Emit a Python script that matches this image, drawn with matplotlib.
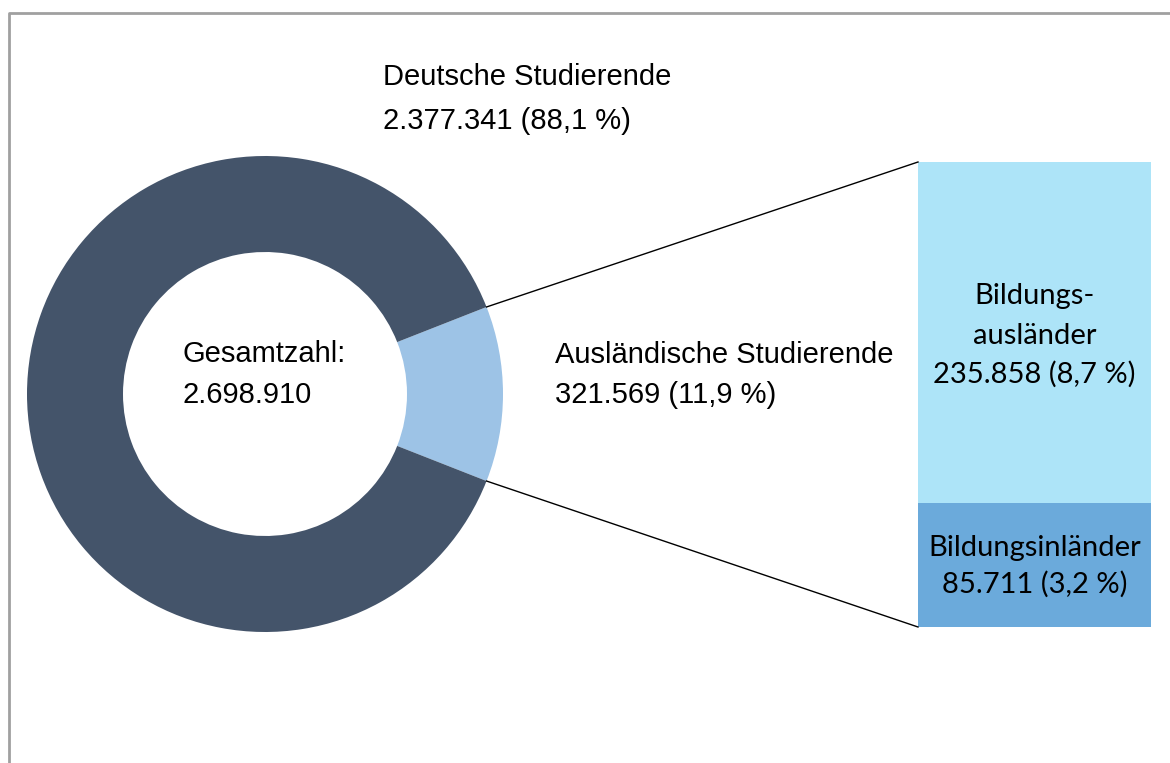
import numpy as np
import matplotlib
matplotlib.use("Agg")
import matplotlib.pyplot as plt

total = 2698910
groups = ["Ausländische Studierende", "Deutsche Studierende"]
group_values = [321569, 2377341]
group_pct = ["11,9 %", "88,1 %"]
sub_labels = ["Bildungsinländer", "Bildungs-\nausländer"]
sub_values = [85711, 235858]
sub_pct = ["3,2 %", "8,7 %"]

def fmt(n):
    return f"{n:,}".replace(",", ".")

fig = plt.figure(figsize=(11.70, 7.63), dpi=100)
ax = fig.add_axes([0, 0, 1, 1])

# frame
ax.plot([9, 9, 1170], [763, 13, 13], color="#A0A0A0", lw=2, solid_capstyle="butt")

# donut
cx, cy, r_out, r_in = 265, 394, 238, 142
frac = group_values[0] / sum(group_values)
half = frac * 180
ax.pie(group_values, colors=["#9DC3E6", "#44546A"], startangle=-half,
       center=(cx, cy), radius=r_out, frame=True,
       wedgeprops=dict(width=r_out - r_in, linewidth=0))
ax.set_xlim(0, 1170)
ax.set_ylim(763, 0)
ax.set_aspect("auto")
ax.axis("off")

# stacked bar for the foreign students
bx0, bw, btop, bbot = 918, 233, 162, 627
scale = (bbot - btop) / group_values[0]
bottom = bbot
for val, col in zip(sub_values, ["#6BAADB", "#ADE4F8"]):
    ax.bar(bx0 + bw / 2, -val * scale, bottom=bottom, width=bw, color=col, linewidth=0)
    bottom -= val * scale

# connector lines
a = np.deg2rad(half)
ex, ey = cx + r_out * np.cos(a), r_out * np.sin(a)
ax.plot([ex, bx0], [cy - ey, btop], color="black", lw=1)
ax.plot([ex, bx0], [cy + ey, bbot], color="black", lw=1)

def lines(x, ys, texts, **kw):
    for y, t in zip(ys, texts):
        ax.text(x, y, t, va="baseline", **kw)

arial = dict(fontsize=21, family="Liberation Sans", ha="left")
lines(383, [85, 129], [groups[1], f"{fmt(group_values[1])} ({group_pct[1]})"], **arial)
lines(183, [362, 403], ["Gesamtzahl:", fmt(total)], **arial)
lines(555, [363, 403], [groups[0], f"{fmt(group_values[0])} ({group_pct[0]})"], **arial)

bar_mid = bx0 + bw / 2
calibri = dict(fontsize=21, family="Lato", ha="center")
lines(bar_mid, [304, 344, 383],
      sub_labels[1].split("\n") + [f"{fmt(sub_values[1])} ({sub_pct[1]})"], **calibri)
lines(bar_mid, [556, 593],
      [sub_labels[0], f"{fmt(sub_values[0])} ({sub_pct[0]})"], **calibri)

fig.savefig("out.png", dpi=100)
